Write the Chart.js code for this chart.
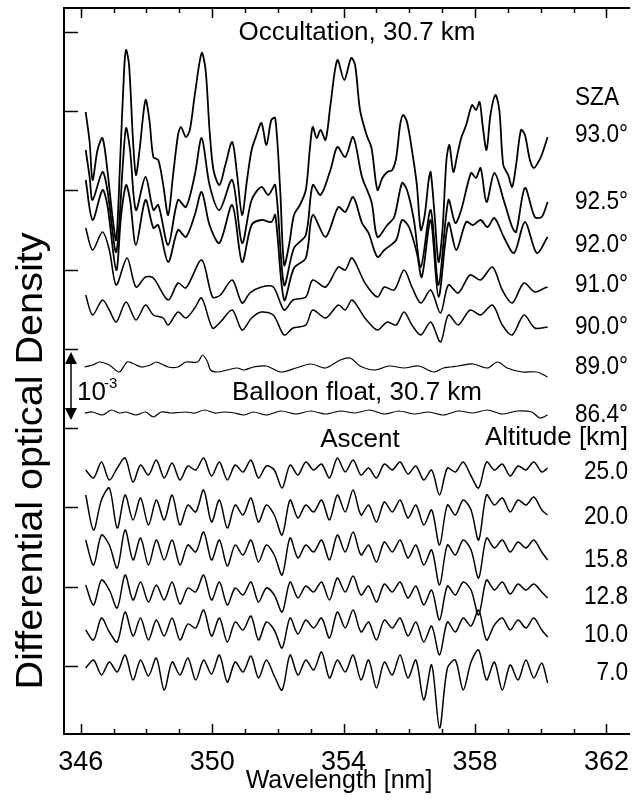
<!DOCTYPE html>
<html>
<head>
<meta charset="utf-8">
<script src="https://cdn.jsdelivr.net/npm/chart.js@4.4.1/dist/chart.umd.min.js"></script>
<style>
  html, body { margin: 0; padding: 0; background: #fff; }
</style>
</head>
<body>
<canvas id="chart" width="641" height="802"></canvas>
<script>
// stacked spectra, plotted heights (1e-3 DOD ~ 79 units), wavelength in nm
const sza930 = [[346.15,622],[346.27,592],[346.36,554],[346.51,584],[346.66,596],[346.81,564],[346.96,519],[347.08,494],[347.20,574],[347.32,664],[347.38,684],[347.47,669],[347.59,594],[347.68,559],[347.79,584],[347.97,634],[348.09,614],[348.21,577],[348.36,574],[348.51,549],[348.66,519],[348.81,559],[348.96,599],[349.05,607],[349.20,597],[349.32,604],[349.47,639],[349.68,681],[349.80,664],[349.92,604],[350.04,564],[350.22,549],[350.40,569],[350.61,592],[350.76,559],[350.91,519],[351.06,554],[351.20,584],[351.35,599],[351.50,611],[351.65,589],[351.80,614],[351.92,616],[352.07,544],[352.19,469],[352.34,489],[352.49,519],[352.67,529],[352.85,544],[352.97,584],[353.06,607],[353.18,596],[353.30,604],[353.45,594],[353.60,629],[353.81,674],[354.02,654],[354.23,676],[354.35,669],[354.50,624],[354.70,599],[354.85,586],[355.03,544],[355.18,556],[355.33,562],[355.48,564],[355.60,576],[355.72,609],[355.81,619],[355.93,612],[356.08,584],[356.23,549],[356.35,504],[356.47,519],[356.59,554],[356.65,562],[356.77,519],[356.89,472],[357.01,504],[357.13,574],[357.22,589],[357.34,562],[357.46,579],[357.58,596],[357.73,609],[357.91,629],[358.03,624],[358.14,632],[358.23,609],[358.35,584],[358.47,619],[358.62,639],[358.74,624],[358.86,569],[359.01,559],[359.13,547],[359.25,569],[359.40,604],[359.52,599],[359.67,574],[359.79,566],[359.91,571],[360.03,579],[360.21,597]];
const sza925 = [[346.15,584],[346.27,557],[346.36,534],[346.66,562],[346.81,544],[347.08,482],[347.29,574],[347.38,606],[347.50,584],[347.68,524],[347.97,557],[348.21,524],[348.36,529],[348.66,489],[348.96,534],[349.20,527],[349.47,559],[349.68,596],[349.92,549],[350.22,524],[350.61,554],[350.91,491],[351.20,534],[351.50,547],[351.71,539],[351.92,549],[352.19,449],[352.49,486],[352.85,499],[353.06,549],[353.30,539],[353.60,564],[353.81,587],[354.05,577],[354.29,597],[354.56,557],[354.85,532],[355.03,497],[355.33,509],[355.54,517],[355.78,551],[355.93,544],[356.14,514],[356.35,467],[356.65,524],[356.89,449],[357.19,534],[357.40,511],[357.58,524],[357.88,561],[358.03,556],[358.17,566],[358.35,532],[358.59,561],[358.89,532],[359.13,507],[359.25,502],[359.52,546],[359.82,517],[360.03,517],[360.21,532]];
const sza920 = [[346.15,554],[346.36,514],[346.66,544],[346.81,529],[347.08,464],[347.23,519],[347.38,549],[347.50,534],[347.68,489],[347.97,534],[348.21,506],[348.36,509],[348.66,472],[348.96,504],[349.20,497],[349.47,519],[349.68,542],[349.92,509],[350.22,491],[350.61,529],[350.91,472],[351.20,509],[351.50,514],[351.80,512],[351.92,519],[352.19,434],[352.49,466],[352.85,476],[353.06,519],[353.45,497],[353.84,527],[354.05,522],[354.29,537],[354.56,511],[354.76,501],[355.03,477],[355.24,484],[355.60,494],[355.78,514],[355.99,507],[356.23,481],[356.38,457],[356.65,514],[356.89,437],[357.19,511],[357.43,484],[357.73,512],[357.94,509],[358.17,514],[358.38,507],[358.59,516],[358.89,496],[359.19,481],[359.52,512],[359.88,481],[360.21,497]];
const sza910 = [[346.15,506],[346.36,484],[346.66,502],[346.87,484],[347.08,449],[347.41,476],[347.68,447],[347.97,457],[348.21,456],[348.66,434],[348.96,451],[349.20,446],[349.68,474],[350.01,437],[350.25,439],[350.61,454],[350.91,431],[351.15,441],[351.50,447],[351.86,447],[352.19,424],[352.46,434],[352.85,437],[353.06,454],[353.45,447],[353.84,467],[354.05,464],[354.26,476],[354.65,451],[355.03,437],[355.24,447],[355.54,444],[355.84,464],[356.08,447],[356.35,431],[356.65,444],[356.95,421],[357.19,449],[357.49,441],[357.85,459],[358.17,454],[358.53,467],[358.83,444],[359.13,431],[359.49,451],[359.82,442],[360.12,446],[360.21,447]];
const sza900 = [[346.15,439],[346.36,419],[346.66,434],[346.87,424],[347.08,412],[347.38,432],[347.68,414],[347.97,429],[348.21,419],[348.51,416],[348.66,409],[348.96,422],[349.20,416],[349.47,426],[349.68,436],[350.01,406],[350.25,412],[350.61,424],[350.91,404],[351.20,416],[351.50,422],[351.86,419],[352.19,399],[352.46,406],[352.85,409],[353.06,424],[353.45,416],[353.84,429],[354.05,424],[354.26,434],[354.65,416],[355.03,404],[355.33,412],[355.60,409],[355.84,422],[356.08,409],[356.35,399],[356.65,412],[356.95,392],[357.19,419],[357.49,409],[357.85,424],[358.17,419],[358.53,429],[358.83,409],[359.13,399],[359.49,419],[359.82,406],[360.21,407]];
const sza890 = [[346.12,367],[346.36,369],[346.57,372],[346.87,369],[347.17,362],[347.41,372],[347.56,371],[347.85,367],[348.12,369],[348.30,372],[348.66,367],[348.96,367],[349.20,372],[349.56,372],[349.71,379],[349.86,372],[349.95,364],[350.16,362],[350.46,364],[350.76,366],[350.97,364],[351.26,367],[351.65,368],[352.10,362],[352.55,366],[353.00,370],[353.45,366],[353.90,374],[354.20,376],[354.50,368],[354.94,364],[355.39,368],[355.84,366],[356.29,368],[356.74,362],[357.04,366],[357.49,368],[357.94,370],[358.38,366],[358.68,372],[358.98,366],[359.43,362],[359.88,362],[360.21,357]];
const sza864 = [[346.12,321],[346.36,322],[346.66,319],[346.93,324],[347.17,321],[347.38,322],[347.68,319],[347.97,322],[348.21,317],[348.45,322],[348.75,321],[349.20,322],[349.47,321],[349.77,324],[350.07,321],[350.37,322],[350.67,321],[350.97,319],[351.26,322],[351.65,319],[352.10,323],[352.55,320],[353.00,323],[353.45,320],[353.90,323],[354.35,321],[354.79,324],[355.24,320],[355.69,323],[356.14,320],[356.59,322],[357.04,319],[357.49,323],[357.94,321],[358.38,324],[358.83,320],[359.28,323],[359.73,322],[359.97,316],[360.21,319]];

const wlAscent = [346.15,346.39,346.63,346.87,347.11,347.35,347.59,347.82,348.06,348.30,348.54,348.78,349.02,349.26,349.50,349.74,349.98,350.22,350.46,350.70,350.94,351.18,351.41,351.65,351.89,352.13,352.37,352.61,352.85,353.09,353.33,353.57,353.81,354.05,354.29,354.53,354.76,355.00,355.24,355.48,355.72,355.96,356.20,356.44,356.68,356.92,357.16,357.40,357.64,357.88,358.11,358.35,358.59,358.83,359.07,359.31,359.55,359.79,360.03,360.21];
const alt250 = [264,256,272,254,266,276,252,269,259,274,256,271,254,268,264,276,258,272,254,269,262,274,256,268,264,246,269,259,272,264,270,256,276,262,274,259,266,256,270,264,272,260,268,254,264,239,266,262,272,258,246,272,264,270,258,268,264,272,262,266];
const alt200 = [239,204,234,246,206,239,214,236,209,234,214,239,209,229,222,244,212,234,206,229,219,236,212,229,219,199,234,216,229,222,234,214,239,222,244,219,229,212,232,222,234,216,229,209,224,189,229,219,234,224,194,239,229,236,222,234,229,237,224,219];
const alt158 = [194,169,199,189,166,204,174,196,169,194,174,194,169,189,182,202,174,194,168,189,179,194,172,189,179,159,196,176,189,182,194,174,199,182,202,179,189,172,192,182,194,176,189,169,184,149,189,179,194,184,156,196,186,194,182,192,186,194,182,174];
const alt128 = [149,129,154,144,126,159,134,152,132,149,134,152,130,146,142,159,134,152,129,146,139,152,132,146,139,122,152,136,148,142,152,134,156,142,158,139,148,132,150,142,152,136,148,129,144,114,148,139,152,144,119,154,144,152,140,150,144,150,142,136];
const alt100 = [104,94,116,102,92,122,98,116,94,114,98,116,94,110,106,124,98,116,92,112,104,118,94,112,104,86,116,100,114,106,116,96,122,106,124,102,112,94,114,106,116,98,112,92,108,79,112,102,116,108,124,94,109,116,104,114,106,116,104,97];
const alt070 = [66,74,59,72,62,79,54,74,58,76,44,72,59,76,54,74,60,79,52,72,62,78,56,74,58,44,79,59,74,64,82,56,74,62,79,54,74,46,72,59,79,56,74,34,69,6,66,74,44,72,84,54,72,44,69,54,74,56,71,51];

const wlTicks = [346,347,348,349,350,351,352,353,354,355,356,357,358,359,360,361,362];
const densityTicks = [68,147.3,226.6,305.9,385.2,464.5,543.8,623.1,702.4];
const scaleBar = [314, 382]; // 10^-3 arrow
const szaLabels = ['93.0°','92.5°','92.0°','91.0°','90.0°','89.0°','86.4°'];
const altLabels = ['25.0','20.0','15.8','12.8','10.0','7.0'];

const FONT = "'Liberation Sans', Arial, sans-serif";

function pairs(list) {
    return list.map(p => ({ x: p[0], y: p[1] }));
}
function onGrid(values) {
    return values.map((v, i) => ({ x: wlAscent[i], y: v }));
}
function trace(data, width, tension) {
    return { data: data, borderColor: '#000', borderWidth: width, pointRadius: 0, tension: tension, fill: false };
}

const datasets = [
    trace(pairs(sza930), 1.8, 0.3),
    trace(pairs(sza925), 1.8, 0.3),
    trace(pairs(sza920), 1.8, 0.3),
    trace(pairs(sza910), 1.6, 0.3),
    trace(pairs(sza900), 1.5, 0.3),
    trace(pairs(sza890), 1.2, 0.3),
    trace(pairs(sza864), 1.2, 0.3),
    trace(onGrid(alt250), 1.5, 0.3),
    trace(onGrid(alt200), 1.5, 0.3),
    trace(onGrid(alt158), 1.5, 0.3),
    trace(onGrid(alt128), 1.5, 0.3),
    trace(onGrid(alt100), 1.5, 0.3),
    trace(onGrid(alt070), 1.5, 0.3)
];

function text(ctx, str, x, y, size, align, squeeze) {
    ctx.save();
    ctx.font = size + 'px ' + FONT;
    ctx.textAlign = align;
    ctx.textBaseline = 'middle';
    ctx.translate(x, y);
    ctx.scale(squeeze || 1, 1);
    ctx.fillText(str, 0, 0);
    ctx.restore();
}

const framePlugin = {
    id: 'frame',
    afterDraw(chart) {
        const ctx = chart.ctx;
        const a = chart.chartArea;
        const xs = chart.scales.x;
        const ys = chart.scales.y;
        ctx.save();
        ctx.strokeStyle = '#000';
        ctx.fillStyle = '#000';
        ctx.lineWidth = 2;
        ctx.beginPath();
        ctx.moveTo(a.right, a.top); ctx.lineTo(a.left, a.top);
        ctx.lineTo(a.left, a.bottom); ctx.lineTo(a.right, a.bottom);
        ctx.stroke();

        ctx.lineWidth = 1.5;
        wlTicks.forEach(v => {
            const px = Math.round(xs.getPixelForValue(v)) + 0.5;
            const len = (v % 4 === 2) ? 10 : 5;
            ctx.beginPath();
            ctx.moveTo(px, a.bottom); ctx.lineTo(px, a.bottom - len);
            ctx.moveTo(px, a.top); ctx.lineTo(px, a.top + len);
            ctx.stroke();
        });
        densityTicks.forEach(v => {
            const py = Math.round(ys.getPixelForValue(v)) + 0.5;
            ctx.beginPath();
            ctx.moveTo(a.left, py); ctx.lineTo(a.left + 14, py);
            ctx.stroke();
        });

        // 10^-3 scale bar
        const bx = a.left + 7;
        const t = ys.getPixelForValue(scaleBar[1]);
        const b = ys.getPixelForValue(scaleBar[0]);
        ctx.beginPath();
        ctx.moveTo(bx, t + 8); ctx.lineTo(bx, b - 8);
        ctx.stroke();
        ctx.beginPath();
        ctx.moveTo(bx, t); ctx.lineTo(bx - 6, t + 12); ctx.lineTo(bx + 6, t + 12); ctx.closePath();
        ctx.moveTo(bx, b); ctx.lineTo(bx - 6, b - 12); ctx.lineTo(bx + 6, b - 12); ctx.closePath();
        ctx.fill();
        text(ctx, '10', 77, 393, 26, 'left');
        text(ctx, '-3', 104, 384, 15, 'left');

        text(ctx, 'Occultation, 30.7 km', 357, 33, 26, 'center');
        text(ctx, 'Balloon float, 30.7 km', 357, 393, 26, 'center');
        text(ctx, 'Ascent', 360, 440, 26, 'center');
        text(ctx, 'Altitude [km]', 628, 438, 26, 'right');
        text(ctx, 'SZA', 575, 98, 26, 'left', 0.87);

        const szaY = [135, 202, 245, 285, 327, 367, 415];
        szaLabels.forEach((s, i) => text(ctx, s, 575, szaY[i], 26, 'left', 0.87));
        const altY = [472, 517, 560, 597, 635, 673];
        altLabels.forEach((s, i) => text(ctx, s, 628, altY[i], 26, 'right', 0.87));

        text(ctx, 'Wavelength [nm]', 339, 781, 25, 'center');
        ctx.save();
        ctx.translate(32, 461);
        ctx.rotate(-Math.PI / 2);
        ctx.scale(1.1, 1);
        ctx.font = '36px ' + FONT;
        ctx.textAlign = 'center';
        ctx.textBaseline = 'middle';
        ctx.fillText('Differential optical Density', 0, 0);
        ctx.restore();
        ctx.restore();
    }
};

new Chart(document.getElementById('chart'), {
    type: 'line',
    data: { datasets: datasets },
    options: {
        responsive: false,
        animation: false,
        devicePixelRatio: 1,
        layout: { padding: { top: 8, right: 1, left: 0, bottom: 0 } },
        plugins: { legend: { display: false }, tooltip: { enabled: false } },
        scales: {
            x: {
                type: 'linear',
                min: 345.49,
                max: 362.72,
                grid: { display: false, drawTicks: false },
                border: { display: false },
                afterBuildTicks: s => { s.ticks = wlTicks.map(v => ({ value: v })); },
                afterFit: s => { s.height = 68; },
                ticks: {
                    autoSkip: false,
                    maxRotation: 0,
                    padding: 12,
                    color: '#000',
                    font: { family: FONT, size: 27 },
                    callback: v => (v % 4 === 2 ? String(v) : '')
                }
            },
            y: {
                type: 'linear',
                min: 0,
                max: 726,
                grid: { display: false, drawTicks: false },
                border: { display: false },
                ticks: { display: false },
                afterFit: s => { s.width = 64; }
            }
        }
    },
    plugins: [framePlugin]
});
</script>
</body>
</html>
